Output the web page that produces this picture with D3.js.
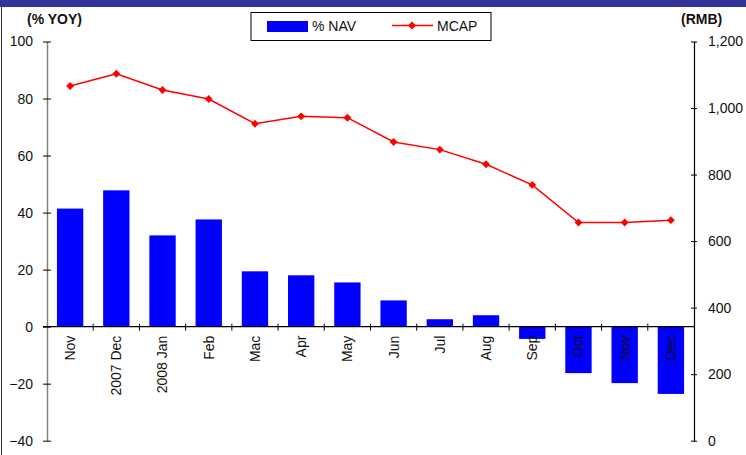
<!DOCTYPE html>
<html><head><meta charset="utf-8">
<script src="https://cdn.jsdelivr.net/npm/d3@7"></script>
<style>
html,body{margin:0;padding:0;background:#fff;}
svg{display:block;font-family:"Liberation Sans",Arial,sans-serif;}
</style></head>
<body>
<svg id="chart" width="746" height="455"></svg>
<script>
const categories = ["Nov","2007 Dec","2008 Jan","Feb","Mac","Apr","May","Jun","Jul","Aug","Sep","Oct","Nov","Dec"];
const navYoy = [41.4, 47.8, 32.0, 37.6, 19.4, 18.0, 15.5, 9.2, 2.6, 4.0, -4.3, -16.3, -19.8, -23.6];
const mcap = [1066, 1103, 1054, 1027, 953, 975, 971, 898, 875, 831, 769, 656, 656, 663];
const leftTicks = [-40, -20, 0, 20, 40, 60, 80, 100];
const rightTicks = [0, 200, 400, 600, 800, 1000, 1200];
const seriesNames = ["% NAV", "MCAP"];

const svg = d3.select("#chart");
const M = {left: 47, right: 694, top: 41.5, bottom: 440.7};

const x = d3.scaleBand().domain(categories.map((c,i)=>i)).range([M.left, M.right]).padding(0);
const yL = d3.scaleLinear().domain([-40, 100]).range([M.bottom, M.top]);
const yR = d3.scaleLinear().domain([0, 1200]).range([M.bottom, M.top]);
const barW = x.bandwidth() * 0.57;

// top band and left frame
svg.append("rect").attr("x",0).attr("y",0).attr("width",746).attr("height",7).attr("fill","#333399");
svg.append("line").attr("x1",1.5).attr("x2",1.5).attr("y1",7).attr("y2",455).attr("stroke","#333").attr("stroke-width",1);

// bars
svg.append("g").selectAll("rect").data(navYoy).join("rect")
  .attr("x",(d,i)=>x(i) + (x.bandwidth()-barW)/2)
  .attr("width",barW)
  .attr("y",d=>yL(Math.max(0,d)))
  .attr("height",d=>Math.abs(yL(d)-yL(0)))
  .attr("fill","#0000ff");

// left axis
const gL = svg.append("g").attr("transform",`translate(${M.left},0)`)
  .call(d3.axisLeft(yL).tickValues(leftTicks).tickFormat(d3.format("d")).tickSizeInner(4).tickSizeOuter(0).tickPadding(10));
gL.select(".domain").attr("stroke","#808080").attr("stroke-width",1.5);
gL.selectAll(".tick line").attr("stroke","#000").attr("x2",-4).attr("x1",4);
gL.selectAll("text").attr("font-size",14).attr("fill","#111").attr("font-family","Liberation Sans, Arial, sans-serif");

// right axis
const gR = svg.append("g").attr("transform",`translate(${M.right},0)`)
  .call(d3.axisRight(yR).tickValues(rightTicks).tickFormat(d3.format(",")).tickSizeInner(4).tickSizeOuter(0).tickPadding(10));
gR.select(".domain").attr("stroke","#000").attr("stroke-width",1.2);
gR.selectAll(".tick line").attr("stroke","#000").attr("x1",-3).attr("x2",3);
gR.selectAll("text").attr("font-size",14).attr("fill","#111").attr("font-family","Liberation Sans, Arial, sans-serif");

// zero line (category axis)
const y0 = yL(0);
svg.append("line").attr("x1",M.left-4).attr("x2",M.right).attr("y1",y0).attr("y2",y0).attr("stroke","#000").attr("stroke-width",1.3);
svg.append("g").selectAll("line").data(categories.slice(1)).join("line")
  .attr("x1",(d,i)=>x(i+1)).attr("x2",(d,i)=>x(i+1))
  .attr("y1",y0-3).attr("y2",y0+4).attr("stroke","#000").attr("stroke-width",1);

// category labels
svg.append("g").selectAll("text").data(categories).join("text")
  .attr("transform",(d,i)=>`translate(${x(i)+x.bandwidth()/2},${y0+9}) rotate(-90)`)
  .attr("text-anchor","end").attr("dy","0.35em")
  .attr("font-size",14).attr("fill","#111").text(d=>d);

// line
const line = d3.line().x((d,i)=>x(i)+x.bandwidth()/2).y(d=>yR(d));
svg.append("path").datum(mcap).attr("d",line).attr("fill","none").attr("stroke","#ff0000").attr("stroke-width",1.5);
const diamond = d3.symbol().type(d3.symbolDiamond2).size(40);
svg.append("g").selectAll("path").data(mcap).join("path")
  .attr("transform",(d,i)=>`translate(${x(i)+x.bandwidth()/2},${yR(d)})`)
  .attr("d",diamond).attr("fill","#ff0000");

// axis titles
svg.append("text").attr("x",27).attr("y",24).attr("font-size",14).attr("font-weight","bold").attr("fill","#111").text("(% YOY)");
svg.append("text").attr("x",681).attr("y",24).attr("font-size",14).attr("font-weight","bold").attr("fill","#111").text("(RMB)");

// legend
const lg = svg.append("g");
lg.append("rect").attr("x",251).attr("y",12.5).attr("width",240).attr("height",28).attr("fill","#fff").attr("stroke","#000").attr("stroke-width",1);
lg.append("rect").attr("x",267).attr("y",21).attr("width",41).attr("height",11).attr("fill","#0000ff");
lg.append("text").attr("x",312).attr("y",31).attr("font-size",14).attr("fill","#111").text(seriesNames[0]);
lg.append("line").attr("x1",392).attr("x2",433).attr("y1",25.5).attr("y2",25.5).attr("stroke","#ff0000").attr("stroke-width",1.5);
lg.append("path").attr("transform","translate(412,25.5)").attr("d",diamond).attr("fill","#ff0000");
lg.append("text").attr("x",437).attr("y",31).attr("font-size",14).attr("fill","#111").text(seriesNames[1]);
</script>
</body></html>
